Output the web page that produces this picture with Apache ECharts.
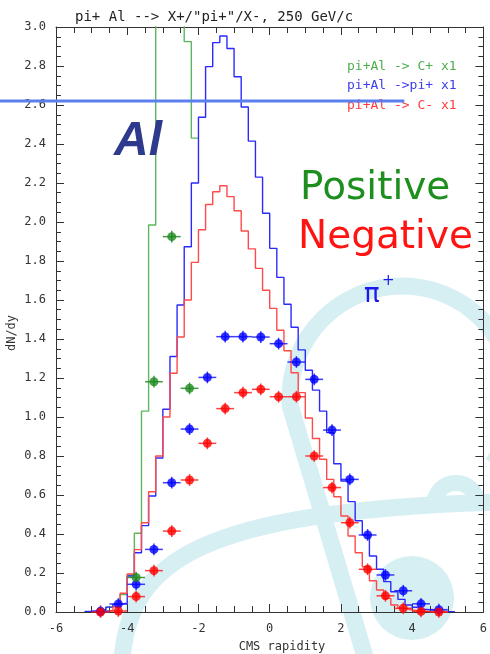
<!DOCTYPE html>
<html><head><meta charset="utf-8">
<script src="https://cdn.jsdelivr.net/npm/echarts@6/dist/echarts.min.js"></script>
<style>html,body{margin:0;padding:0;background:#fff}#c{width:490px;height:654px}</style>
</head><body><div id="c"></div>
<script>
// ---------- data ----------
const BIN = 0.2;
const blueHistStart = -5.2;
const blueHist = [0.003,0.005,0.01,0.025,0.04,0.045,0.185,0.304,0.443,0.595,0.79,1.04,1.31,1.574,1.873,2.20,2.537,2.797,2.92,2.954,2.89,2.745,2.59,2.415,2.23,2.045,
                  1.865,1.716,1.578,1.46,1.344,1.24,1.138,1.03,0.92,0.76,0.672,0.566,0.468,0.395,0.287,0.219,0.156,0.104,0.065,0.036,0.024,0.013,0.01,0.005,0.003,0.002];
const redHistStart = -4.8;
const redHist = [0.003,0.008,0.027,0.096,0.195,0.32,0.458,0.617,0.80,1.00,1.224,1.41,1.60,1.793,1.96,2.09,2.155,2.186,2.13,2.058,1.954,1.862,1.762,1.65,
                 1.557,1.445,1.34,1.227,1.125,0.995,0.89,0.783,0.68,0.591,0.492,0.39,0.304,0.232,0.16,0.113,0.07,0.036,0.019,0.01,0.005,0.003,0.002,0.001,0.001];
const greenHistStart = -4.8;
const greenHist = [0.01,0.025,0.04,0.09,0.19,0.404,1.03,1.985,3.5,3.9,3.8,3.4,2.925,2.43];

const pointX   = [-4.75,-4.25,-3.75,-3.25,-2.75,-2.25,-1.75,-1.25,-0.75,-0.25,0.25,0.75,1.25,1.75,2.25,2.75,3.25,3.75,4.25,4.75];
const bluePts  = [0.004,0.041,0.142,0.321,0.663,0.938,1.203,1.412,1.412,1.41,1.376,1.282,1.193,0.933,0.68,0.395,0.19,0.109,0.042,0.012];
const redPts   = [0.0,0.005,0.079,0.212,0.415,0.677,0.865,1.043,1.125,1.142,1.104,1.104,0.80,0.638,0.458,0.219,0.083,0.019,0.003,0.0];
const greenPtX = [-3.75,-3.25,-2.75,-2.25];
const greenPts = [0.177,1.181,1.925,1.147];
const xErr = 0.25, yErr = 0.03;

const titleText = 'pi+ Al --> X+/"pi+"/X-, 250 GeV/c';
const legendLabels = ['pi+Al -> C+ x1', 'pi+Al ->pi+ x1', 'pi+Al -> C- x1'];
const xName = 'CMS rapidity', yName = 'dN/dy';
const annotLineY = 2.62, annotLineXEnd = 3.78;

// ---------- helpers ----------
function steps(start, vals) {
  const out = [];
  vals.forEach((v, i) => {
    const a = +(start + i * BIN).toFixed(2), b = +(start + (i + 1) * BIN).toFixed(2);
    out.push([a, v], [b, v]);
  });
  return out;
}
function pts(xs, ys) { return xs.map((x, i) => [x, ys[i]]); }
function errSeries(data, color) {
  return {
    type: 'custom', z: 3, data: data,
    renderItem: (p, api) => {
      const x = api.value(0), y = api.value(1);
      const l = api.coord([x - xErr, y]), r = api.coord([x + xErr, y]);
      const t = api.coord([x, y + yErr]), b = api.coord([x, y - yErr]);
      return { type: 'group', children: [
        { type: 'line', shape: { x1: l[0], y1: l[1], x2: r[0], y2: r[1] }, style: { stroke: color, lineWidth: 1.5, opacity: 0.85 } },
        { type: 'line', shape: { x1: t[0], y1: t[1], x2: b[0], y2: b[1] }, style: { stroke: color, lineWidth: 1.5, opacity: 0.85 } }
      ]};
    }
  };
}
const MONO = '"DejaVu Sans Mono", monospace';
const axisCol = '#333';
function xAx(pos, labels) {
  return {
    type: 'value', min: -6, max: 6, interval: 2, position: pos,
    axisLine: { show: true, onZero: false, lineStyle: { color: axisCol, width: 1 } },
    axisTick: { show: true, inside: true, length: 8, lineStyle: { color: axisCol } },
    minorTick: { show: true, splitNumber: 4, length: 6, lineStyle: { color: axisCol } },
    axisLabel: { show: labels, fontFamily: MONO, fontSize: 12, color: axisCol, margin: 11, showMinLabel: true, showMaxLabel: true },
    splitLine: { show: false }, minorSplitLine: { show: false }
  };
}
function yAx(pos, labels) {
  return {
    type: 'value', min: 0, max: 3, interval: 0.2, position: pos,
    axisLine: { show: true, onZero: false, lineStyle: { color: axisCol, width: 1 } },
    axisTick: { show: true, inside: true, length: 8, lineStyle: { color: axisCol } },
    minorTick: { show: true, splitNumber: 4, length: 5, lineStyle: { color: axisCol } },
    axisLabel: { show: labels, fontFamily: MONO, fontSize: 12, color: axisCol, margin: 10, formatter: v => v.toFixed(1) },
    splitLine: { show: false }, minorSplitLine: { show: false }
  };
}

const cyan = '#d5eff2';
const bg = [
  { type: 'arc', z: -1, shape: { cx: 402, cy: 398, r: 112, startAngle: Math.PI * 0.97, endAngle: Math.PI * 2.2, clockwise: true }, style: { stroke: cyan, lineWidth: 17, fill: null } },
  { type: 'line', z: -1, shape: { x1: 290, y1: 405, x2: 366, y2: 660 }, style: { stroke: cyan, lineWidth: 17 } },
  { type: 'bezierCurve', z: -1, shape: { x1: 122, y1: 660, cpx1: 130, cpy1: 560, cpx2: 200, cpy2: 512, x2: 495, y2: 502 }, style: { stroke: cyan, lineWidth: 17, fill: null } },
  { type: 'circle', z: -1, shape: { cx: 412, cy: 598, r: 42 }, style: { fill: cyan } },
  { type: 'arc', z: -1, shape: { cx: 456, cy: 505, r: 22, startAngle: Math.PI, endAngle: Math.PI * 2, clockwise: true }, style: { stroke: cyan, lineWidth: 16, fill: null } }
];

const chart = echarts.init(document.getElementById('c'), null, { renderer: 'canvas' });
const option = {
  animation: false,
  backgroundColor: '#fff',
  title: { text: titleText, left: 70, top: 5, textStyle: { fontFamily: MONO, fontSize: 14, fontWeight: 'normal', color: '#222' } },
  grid: { left: 56, right: 2, top: 27, bottom: 42, containLabel: false },
  xAxis: [xAx('bottom', true), xAx('top', false)],
  yAxis: [yAx('left', true), yAx('right', false)],
  series: [
    { name: legendLabels[0], type: 'line', data: steps(greenHistStart, greenHist), showSymbol: false, clip: true, z: 2, lineStyle: { color: '#5cb85c', width: 1.4 } },
    { name: legendLabels[1], type: 'line', data: steps(blueHistStart, blueHist), showSymbol: false, clip: true, z: 2, lineStyle: { color: '#2a2aff', width: 1.4 } },
    { name: legendLabels[2], type: 'line', data: steps(redHistStart, redHist), showSymbol: false, clip: true, z: 2, lineStyle: { color: '#ff4a4a', width: 1.4 } },
    errSeries(pts(pointX, bluePts), '#1a1aff'),
    errSeries(pts(pointX, redPts), '#ff2020'),
    errSeries(pts(greenPtX, greenPts), '#228b22'),
    { type: 'scatter', data: pts(pointX, bluePts), symbolSize: 9, itemStyle: { color: '#0000ff' }, z: 4 },
    { type: 'scatter', data: pts(pointX, redPts), symbolSize: 9, itemStyle: { color: '#ff0000' }, z: 4 },
    { type: 'scatter', data: pts(greenPtX, greenPts), symbolSize: 9, itemStyle: { color: '#1f8a1f' }, z: 4 }
  ]
};
chart.setOption(option);

const ly = chart.convertToPixel({ yAxisIndex: 0 }, annotLineY);
const lx = chart.convertToPixel({ xAxisIndex: 0 }, annotLineXEnd);
chart.setOption({
  graphic: bg.concat([
    { type: 'text', z: 10, rotation: Math.PI / 2, x: 12, y: 333, style: { text: yName, font: '12px ' + MONO, fill: '#333', align: 'center', verticalAlign: 'middle' } },
    { type: 'text', z: 10, x: 282, y: 647, style: { text: xName, font: '12px ' + MONO, fill: '#333', align: 'center', verticalAlign: 'middle' } },
    { type: 'text', z: 10, x: 347, y: 67, style: { text: legendLabels[0], font: '13px ' + MONO, fill: '#4caf4c', verticalAlign: 'middle' } },
    { type: 'text', z: 10, x: 347, y: 86, style: { text: legendLabels[1], font: '13px ' + MONO, fill: '#3b3bf0', verticalAlign: 'middle' } },
    { type: 'text', z: 10, x: 347, y: 106, style: { text: legendLabels[2], font: '13px ' + MONO, fill: '#ff3b3b', verticalAlign: 'middle' } },
    { type: 'line', z: 11, shape: { x1: 0, y1: ly, x2: lx, y2: ly }, style: { stroke: '#5b80ee', lineWidth: 3 } },
    { type: 'text', z: 10, x: 114, y: 166, style: { text: 'Al', font: 'italic bold 48px "Liberation Sans", sans-serif', fill: '#2e3a8c', verticalAlign: 'bottom' } },
    { type: 'text', z: 10, x: 300, y: 169, style: { text: 'Positive', font: '39px "DejaVu Sans", sans-serif', fill: '#1e8f1e', verticalAlign: 'top' } },
    { type: 'text', z: 10, x: 298, y: 218, style: { text: 'Negative', font: '39px "DejaVu Sans", sans-serif', fill: '#ff1414', verticalAlign: 'top' } },
    { type: 'text', z: 10, x: 364, y: 282, style: { text: 'π', font: '26px "DejaVu Sans", sans-serif', fill: '#1a1aee', verticalAlign: 'top' } },
    { type: 'text', z: 10, x: 382, y: 274, style: { text: '+', font: '15px "DejaVu Sans", sans-serif', fill: '#1a1aee', verticalAlign: 'top' } }
  ])
});
</script></body></html>
